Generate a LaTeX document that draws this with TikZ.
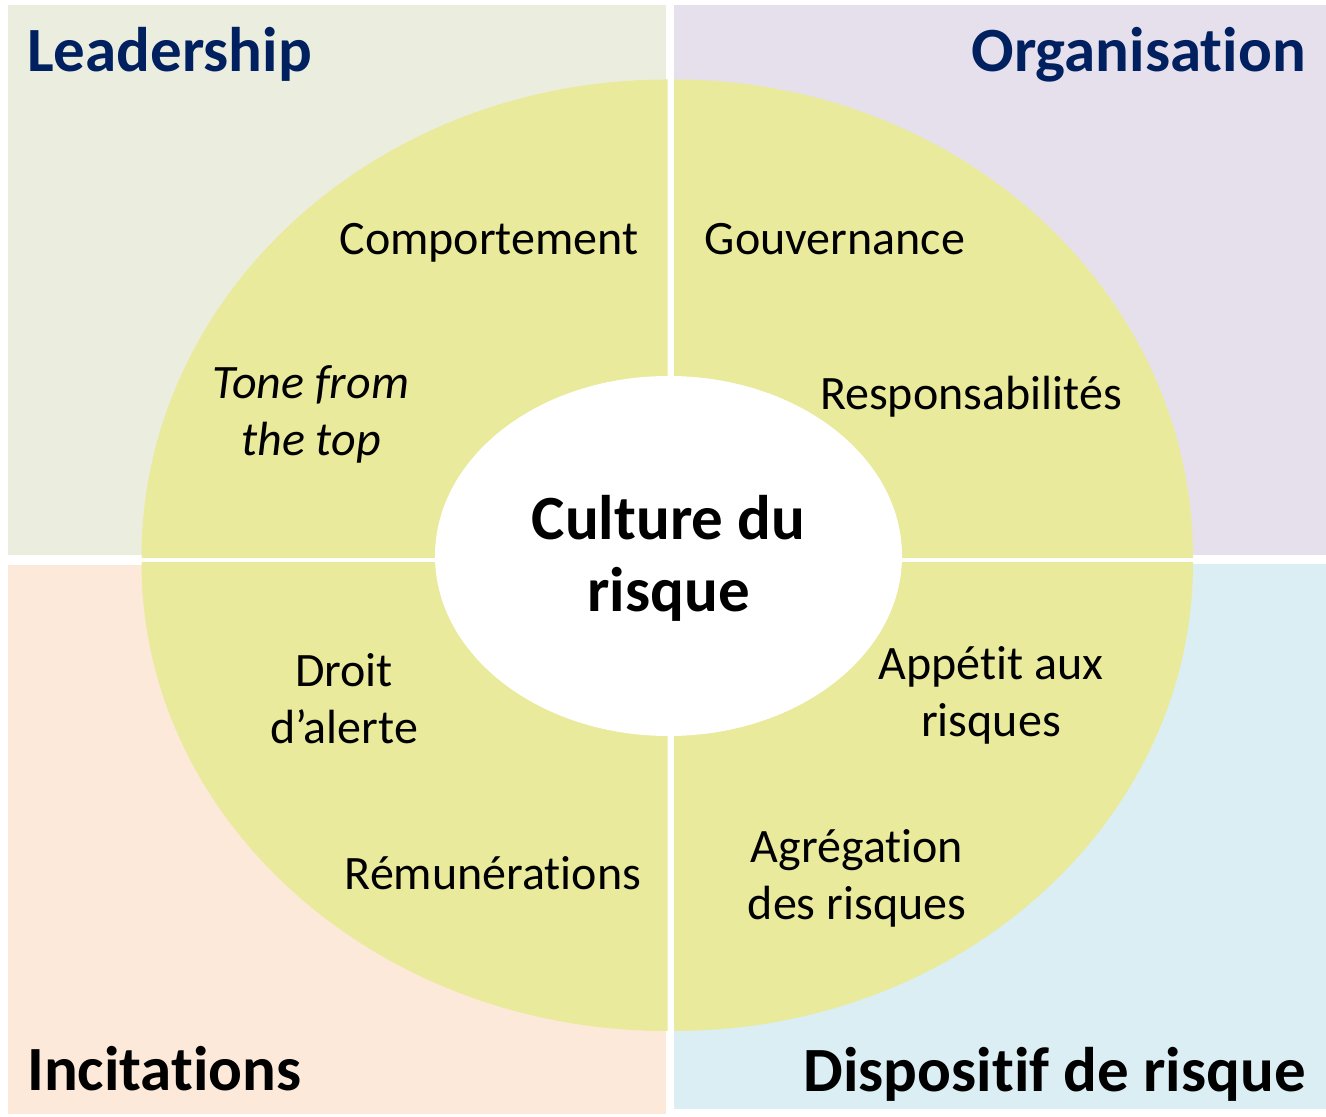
\documentclass[tikz,border=0pt]{standalone}
\usepackage{fontspec}
\setmainfont[RawFeature={-liga;-clig;-calt;-dlig}]{Carlito}
\definecolor{bgTL}{HTML}{EBEEDF}
\definecolor{bgTR}{HTML}{E5E0EC}
\definecolor{bgBL}{HTML}{FDE9D9}
\definecolor{bgBR}{HTML}{DAEEF3}
\definecolor{ring}{HTML}{E9EA9B}
\definecolor{navy}{HTML}{002060}
\begin{document}
\begin{tikzpicture}[x=1pt,y=1pt,
  title/.style={font=\fontsize{63}{70}\selectfont\bfseries, inner sep=0pt},
  item/.style={font=\fontsize{48}{57}\selectfont, align=center, inner sep=0pt},
  core/.style={font=\fontsize{63}{72}\selectfont\bfseries, align=center, inner sep=0pt}]
\useasboundingbox (0,0) rectangle (1326,1117);
\fill[white] (0,0) rectangle (1326,1117);
% quadrant backgrounds
\fill[bgTL] (8,562) rectangle (666,1112);
\fill[bgTR] (674,562) rectangle (1326,1112);
\fill[bgBL] (8,3) rectangle (666,552);
\fill[bgBR] (674,8) rectangle (1326,553);
% yellow ring quarters
\begin{scope}
  \clip (0,559.5) rectangle (667.5,1117);
  \fill[ring] (667.5,559.5) ellipse [x radius=526pt, y radius=478pt];
\end{scope}
\begin{scope}
  \clip (674,559.5) rectangle (1326,1117);
  \fill[ring] (674,559.5) ellipse [x radius=519pt, y radius=478pt];
\end{scope}
\begin{scope}
  \clip (0,0) rectangle (667.5,554);
  \fill[ring] (667.5,554) ellipse [x radius=526pt, y radius=468pt];
\end{scope}
\begin{scope}
  \clip (674,0) rectangle (1326,554);
  \fill[ring] (674,554) ellipse [x radius=519pt, y radius=468pt];
\end{scope}
% centre
\fill[white] (668.5,561) ellipse [x radius=233.5pt, y radius=180pt];
\node[core, anchor=base] (core) at (668.5,505) {Culture du\\risque};
% titles
\node[title, text=navy, anchor=base west] (lead) at (27,1045) {Leadership};
\node[title, text=navy, anchor=base east] (orga) at (1306,1045) {Organisation};
\node[title, anchor=base west] (inci) at (27,27) {Incitations};
\node[title, anchor=base east] (disp) at (1306,25) {Dispositif de risque};
% items
\node[item, anchor=base] (comp) at (489,862) {Comportement};
\node[item, anchor=base] (gouv) at (835,862) {Gouvernance};
\node[item, anchor=base] (resp) at (971,707) {Responsabilités};
\node[item, anchor=base] (remu) at (493,227) {Rémunérations};
\node[item, anchor=base, font=\fontsize{48}{57}\selectfont\itshape] (tone) at (311,661) {Tone from\\the top};
\node[item, anchor=base] (droit) at (344,373) {Droit\\d’alerte};
\node[item, anchor=base] (appe) at (991,380) {Appétit aux\\risques};
\node[item, anchor=base] (agre) at (857,197) {Agrégation\\des risques};
\end{tikzpicture}
\end{document}
